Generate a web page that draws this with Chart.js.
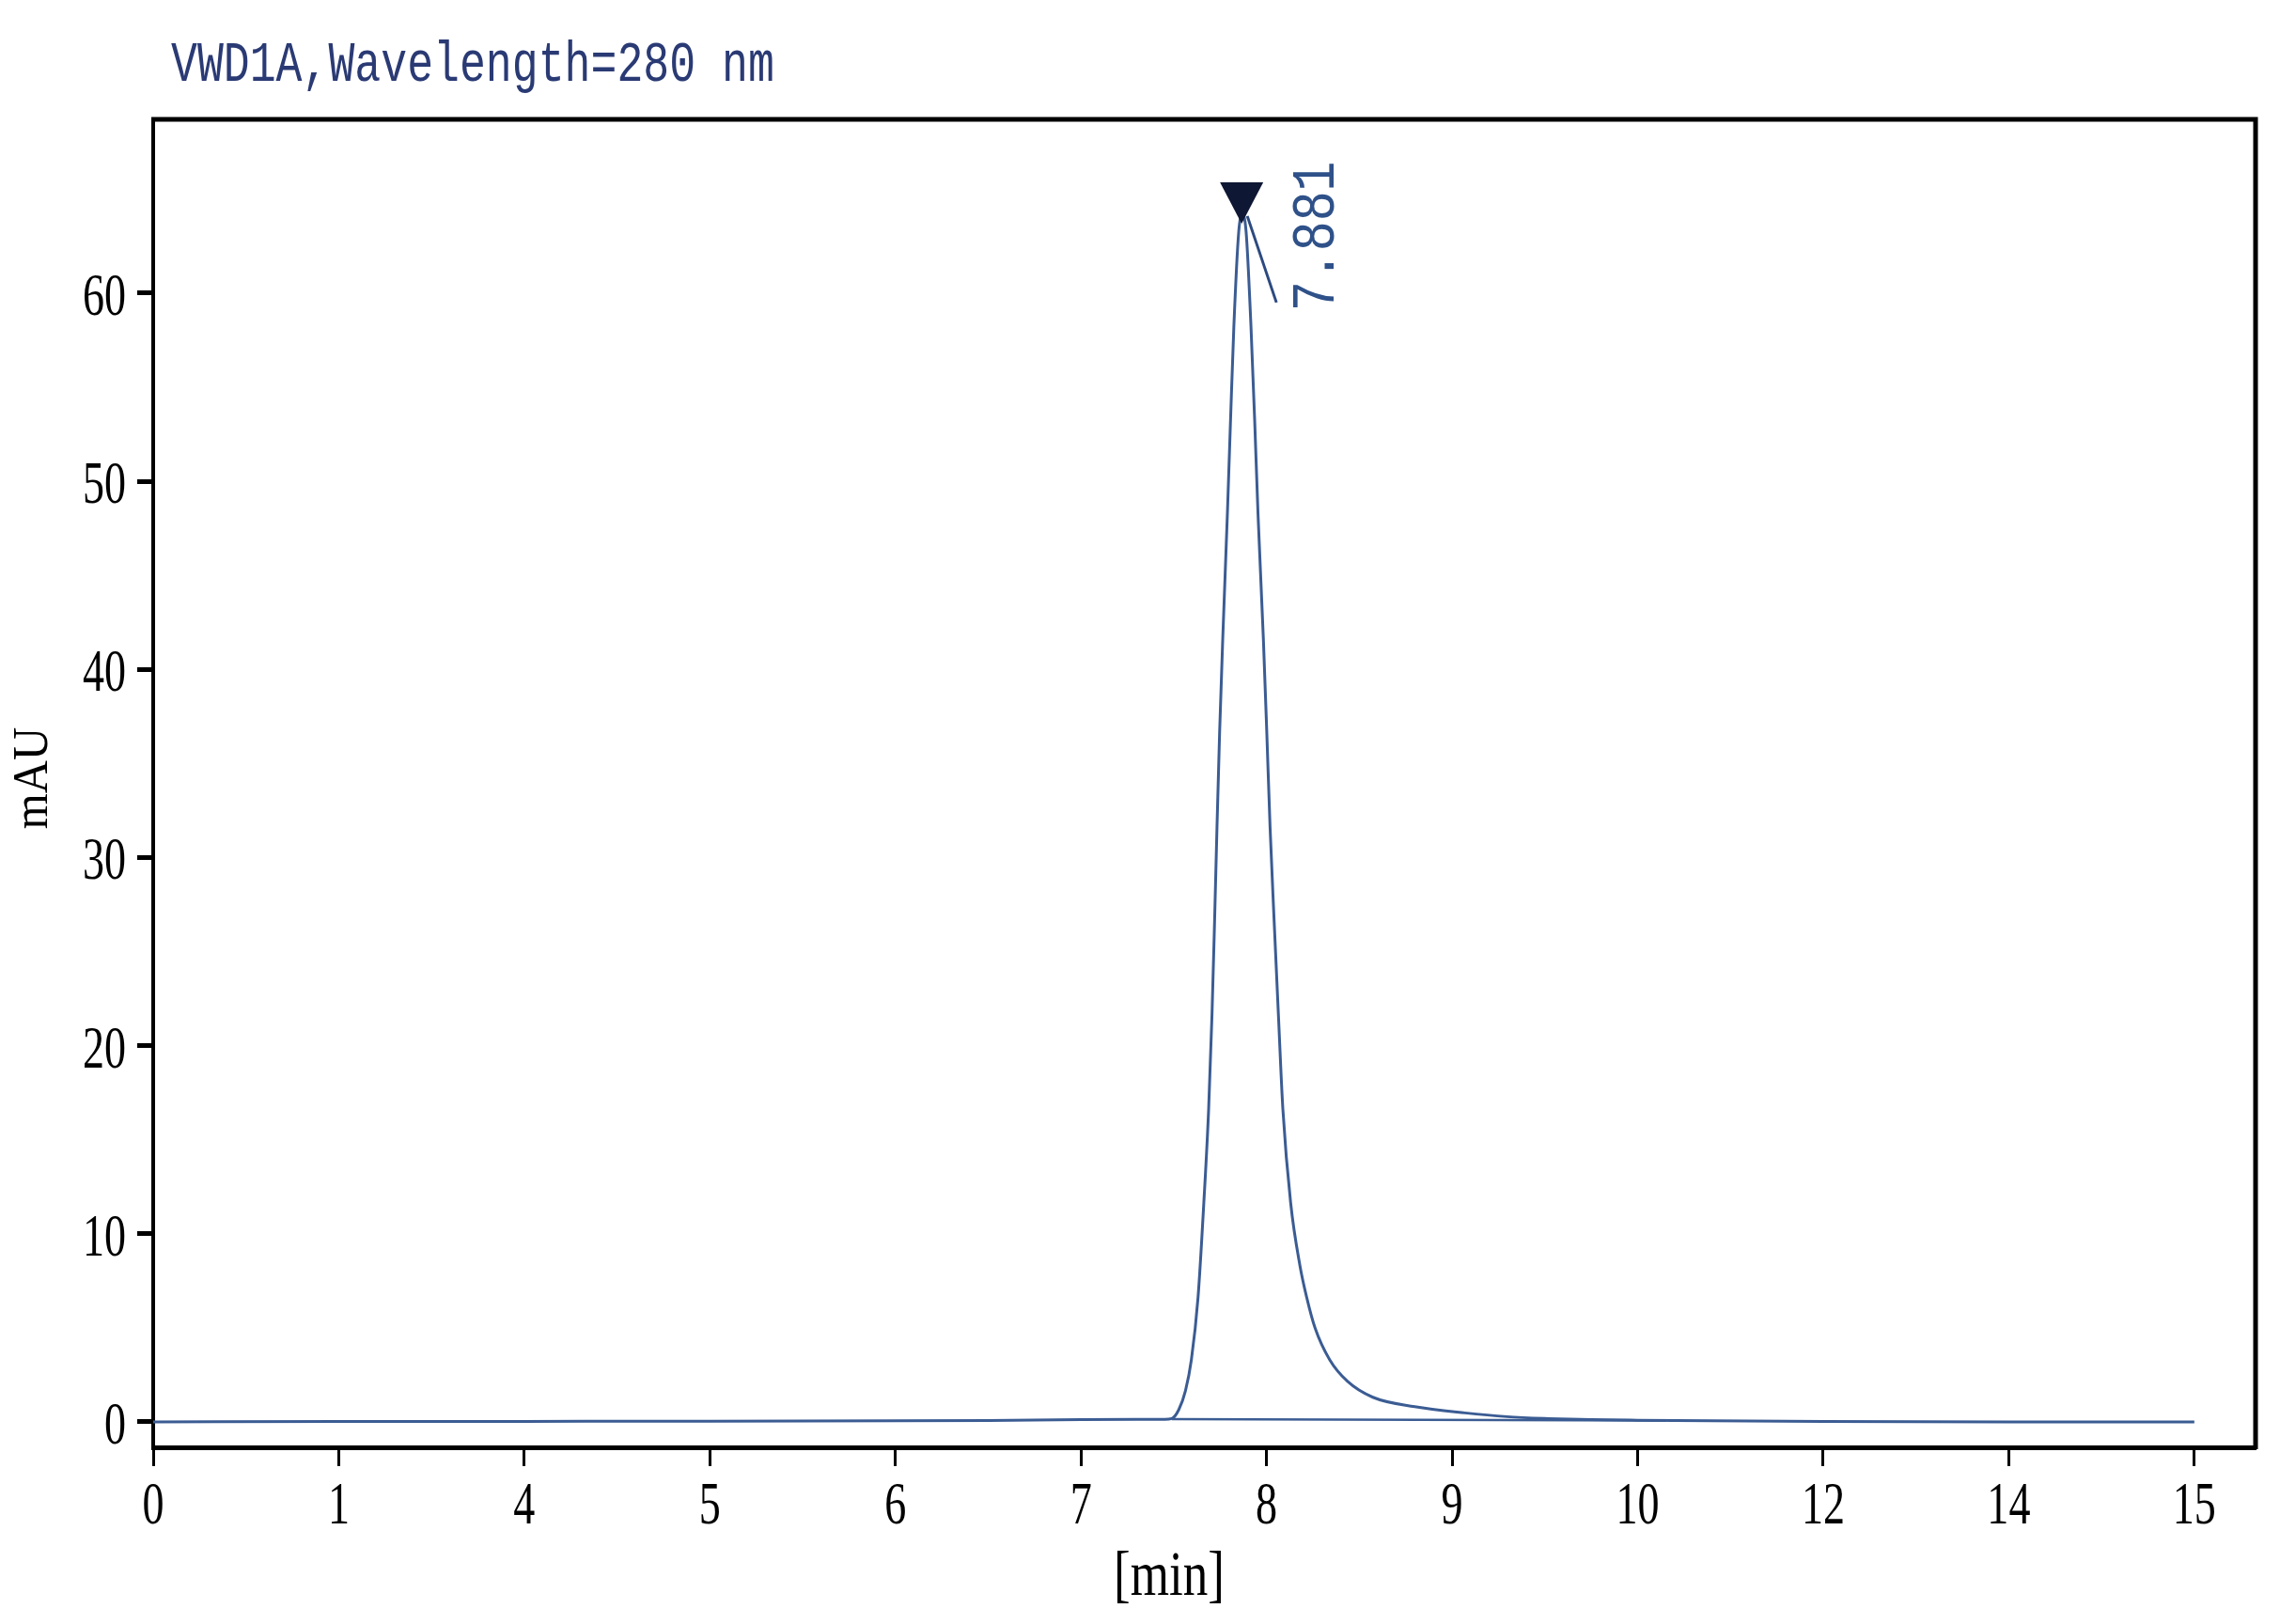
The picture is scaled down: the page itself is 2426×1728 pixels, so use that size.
<!DOCTYPE html>
<html>
<head>
<meta charset="utf-8">
<title>VWD1A chromatogram</title>
<script src="https://cdn.jsdelivr.net/npm/chart.js@4.4.1/dist/chart.umd.min.js"></script>
<style>
  html, body { margin: 0; padding: 0; background: #fff; }
  #chart { display: block; }
</style>
</head>
<body>
<canvas id="chart" width="2426" height="1728"></canvas>
<script>
// axis labels as printed on the x axis (evenly spaced, not a linear time scale)
const tickMinutes = [0, 1, 4, 5, 6, 7, 8, 9, 10, 12, 14, 15];
const yTicks = [0, 10, 20, 30, 40, 50, 60];

// signal, minutes / mAU
const signalTimes = [
  0, 1, 4, 5, 6, 6.5, 7, 7.3, 7.45, 7.489, 7.527, 7.563, 7.595, 7.631, 7.662,
  7.688, 7.706, 7.72, 7.733, 7.747, 7.764, 7.789, 7.806, 7.824, 7.85, 7.87,
  7.89, 7.916, 7.936, 7.954, 7.983, 8.0015, 8.019, 8.041, 8.064, 8.088, 8.13,
  8.18, 8.216, 8.262, 8.34, 8.437, 8.573, 8.799, 9.069, 9.295, 9.519, 9.747,
  10, 12, 14, 15
];
const signalValues = [
  0.0, 0.02, 0.03, 0.04, 0.06, 0.08, 0.12, 0.13, 0.14, 0.18, 0.65, 1.65, 3.31, 6.64, 11.64,
  16.63, 21.63, 26.62, 31.62, 36.61, 41.61, 48.27, 53.26, 58.26, 63.25, 64.2,
  63.25, 58.26, 53.26, 48.27, 41.61, 36.61, 31.62, 26.62, 21.63, 16.63, 11.64,
  8.31, 6.64, 4.98, 3.31, 2.15, 1.31, 0.81, 0.48, 0.28, 0.18, 0.12,
  0.09, 0.03, 0.0, 0.0
];

// integration baseline under the peak
const baselineTimes = [7.489, 10.3];
const baselineValues = [0.15, 0.07];

const peakTime = 7.881;
const peakMarkValue = 63.7;
const peakLabel = '7.881';

const LINE = '#3b5c93';

// position along the evenly spaced x axis for a time in minutes
function toPos(t) {
  for (let i = 0; i < tickMinutes.length - 1; i++) {
    if (t <= tickMinutes[i + 1]) {
      return i + (t - tickMinutes[i]) / (tickMinutes[i + 1] - tickMinutes[i]);
    }
  }
  return tickMinutes.length - 1;
}

function drawText(ctx, text, x, y, font, color, align, sx, rotate) {
  ctx.save();
  ctx.translate(x, y);
  if (rotate) ctx.rotate(-Math.PI / 2);
  ctx.scale(sx, 1);
  ctx.font = font;
  ctx.fillStyle = color;
  ctx.textAlign = align;
  ctx.textBaseline = 'alphabetic';
  ctx.fillText(text, 0, 0);
  ctx.restore();
}

const decor = {
  id: 'decor',
  afterDatasetsDraw(chart) {
    const ctx = chart.ctx;
    const xs = chart.scales.x, ys = chart.scales.y;
    // peak marker
    const px = xs.getPixelForValue(toPos(peakTime)) - 3;
    const py = ys.getPixelForValue(peakMarkValue);
    ctx.save();
    ctx.fillStyle = '#0e1733';
    ctx.beginPath();
    ctx.moveTo(px - 23, py - 44);
    ctx.lineTo(px + 23, py - 44);
    ctx.lineTo(px, py);
    ctx.closePath();
    ctx.fill();
    ctx.strokeStyle = '#2c4a80';
    ctx.lineWidth = 3;
    ctx.beginPath();
    ctx.moveTo(px + 6, py - 8);
    ctx.lineTo(px + 37, py + 84);
    ctx.stroke();
    ctx.restore();
    drawText(ctx, peakLabel, px + 98, py + 93, '64px "Liberation Mono"', '#2f5189', 'left', 0.83, true);
  },
  afterDraw(chart) {
    const ctx = chart.ctx;
    const a = chart.chartArea;
    const xs = chart.scales.x, ys = chart.scales.y;
    // frame top and right
    ctx.save();
    ctx.strokeStyle = '#000';
    ctx.lineWidth = 5;
    ctx.beginPath();
    ctx.moveTo(a.left - 2, a.top);
    ctx.lineTo(a.right, a.top);
    ctx.lineTo(a.right, a.bottom + 2);
    ctx.stroke();
    ctx.restore();

    const tickFont = '64px "Liberation Serif"';
    ys.ticks.forEach(t => {
      drawText(ctx, String(t.value), a.left - 29, ys.getPixelForValue(t.value) + 23, tickFont, '#000', 'right', 0.72, false);
    });
    xs.ticks.forEach(t => {
      drawText(ctx, String(tickMinutes[t.value]), xs.getPixelForValue(t.value), 1621, tickFont, '#000', 'center', 0.72, false);
    });

    drawText(ctx, 'mAU', 50, 828, '53px "Liberation Serif"', '#000', 'center', 0.92, true);
    drawText(ctx, '[min]', 1244, 1697, '68px "Liberation Serif"', '#000', 'center', 0.78, false);
    drawText(ctx, 'VWD1A,Wavelength=280 nm', 182, 86, '62px "Liberation Mono"', '#2a3a74', 'left', 0.75, false);
  }
};

new Chart(document.getElementById('chart'), {
  type: 'line',
  data: {
    datasets: [
      {
        data: baselineTimes.map((t, i) => ({ x: toPos(t), y: baselineValues[i] })),
        borderColor: LINE,
        borderWidth: 2.5,
        pointRadius: 0
      },
      {
        data: signalTimes.map((t, i) => ({ x: toPos(t), y: signalValues[i] })),
        borderColor: LINE,
        borderWidth: 3,
        pointRadius: 0,
        cubicInterpolationMode: 'monotone'
      }
    ]
  },
  options: {
    responsive: false,
    animation: false,
    devicePixelRatio: 1,
    layout: { padding: { top: 127, right: 26, left: 0, bottom: 0 } },
    plugins: { legend: { display: false }, tooltip: { enabled: false } },
    scales: {
      x: {
        type: 'linear',
        min: 0,
        max: 11.33,
        afterBuildTicks: s => { s.ticks = tickMinutes.map((m, i) => ({ value: i })); },
        afterFit: s => { s.height = 188; },
        ticks: { display: false },
        grid: { drawOnChartArea: false, tickLength: 20, tickWidth: 3, tickColor: '#000' },
        border: { color: '#000', width: 5 }
      },
      y: {
        type: 'linear',
        min: -1.35,
        max: 69.24,
        afterBuildTicks: s => { s.ticks = yTicks.map(v => ({ value: v })); },
        afterFit: s => { s.width = 163; },
        ticks: { display: false },
        grid: { drawOnChartArea: false, tickLength: 17, tickWidth: 5, tickColor: '#000' },
        border: { color: '#000', width: 4 }
      }
    }
  },
  plugins: [decor]
});
</script>
</body>
</html>
